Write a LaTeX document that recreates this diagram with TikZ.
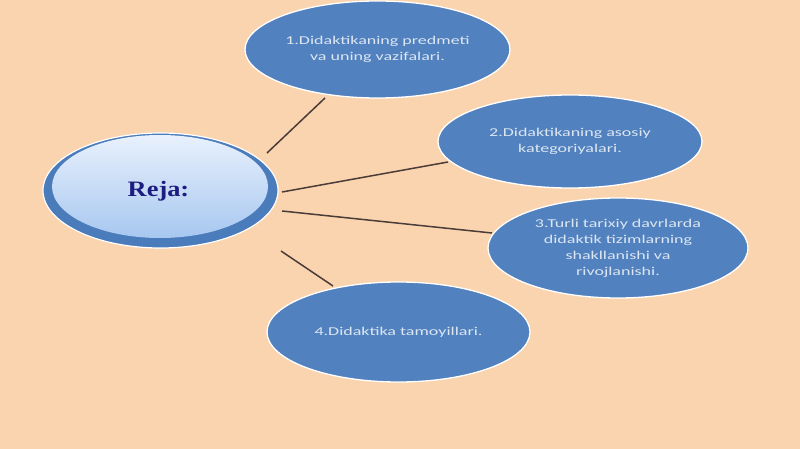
\documentclass[tikz,border=0pt]{standalone}
\usepackage{fontspec}
\usetikzlibrary{shapes.geometric}
\newfontfamily\itemfont[FakeStretch=1.5]{Carlito}
\newfontfamily\rejafont[FakeStretch=1.2]{Liberation Serif}
\definecolor{bgpeach}{HTML}{FAD4AE}
\definecolor{ellblue}{HTML}{5181BE}
\definecolor{txtlight}{HTML}{DCE6F2}
\definecolor{linedark}{HTML}{4A3C38}
\definecolor{rejanavy}{HTML}{1C1C82}
\definecolor{ringblue}{HTML}{4A7BBA}
\definecolor{rejatop}{HTML}{E9F1FC}
\definecolor{rejabottom}{HTML}{A7C7F0}
\tikzset{
  itembox/.style={ellipse, inner sep=0pt, fill=ellblue, draw=white, line width=1.3pt,
    text=txtlight, align=center, font=\itemfont\fontsize{12}{16}\selectfont},
  connector/.style={draw=linedark, line width=1.5pt}
}
\begin{document}
\begin{tikzpicture}[x=1pt,y=-1pt]
\useasboundingbox[fill=bgpeach] (0,0) rectangle (800,449);
% connectors
\coordinate (l1a) at (267,153); \coordinate (l1b) at (325,98);
\coordinate (l2a) at (282,192); \coordinate (l2b) at (448,162);
\coordinate (l3a) at (282,211); \coordinate (l3b) at (492,233);
\coordinate (l4a) at (281,251); \coordinate (l4b) at (333,286);
\draw[connector] (l1a) -- (l1b);
\draw[connector] (l2a) -- (l2b);
\draw[connector] (l3a) -- (l3b);
\draw[connector] (l4a) -- (l4b);
% central
\node[ellipse, inner sep=0pt, minimum width=235pt, minimum height=115pt,
  fill=ringblue, draw=white, line width=1.2pt] (rejaring) at (160.5,190.5) {};
\node[ellipse, inner sep=0pt, minimum width=216pt, minimum height=103pt,
  top color=rejatop, bottom color=rejabottom] (rejafill) at (160,186.5) {};
\node[text=rejanavy, inner sep=0pt, font=\rejafont\bfseries\fontsize{22}{26}\selectfont]
  (reja) at (158.5,191) {Reja:};
% items
\node[itembox, minimum width=265pt, minimum height=97pt] (e1) at (377.5,49.5)
  {1.Didaktikaning predmeti\\va uning vazifalari.};
\node[itembox, minimum width=264pt, minimum height=93pt] (e2) at (570,141.5)
  {2.Didaktikaning asosiy\\kategoriyalari.};
\node[itembox, minimum width=260pt, minimum height=100pt] (e3) at (618,248)
  {3.Turli tarixiy davrlarda\\didaktik tizimlarning\\shakllanishi va\\rivojlanishi.};
\node[itembox, minimum width=263pt, minimum height=100pt] (e4) at (398.5,332)
  {4.Didaktika tamoyillari.};
\end{tikzpicture}
\end{document}
